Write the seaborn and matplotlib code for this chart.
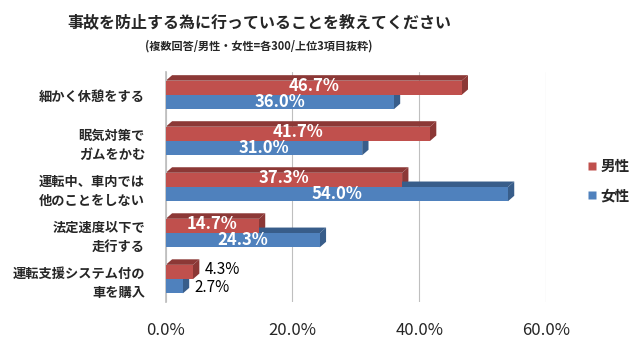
import matplotlib
matplotlib.use("Agg")
import matplotlib.pyplot as plt
from matplotlib.patches import Polygon
from matplotlib.lines import Line2D
import seaborn as sns
import pandas as pd

categories = ["細かく休憩をする", "眠気対策で\nガムをかむ", "運転中、車内では\n他のことをしない",
              "法定速度以下で\n走行する", "運転支援システム付の\n車を購入"]
male = [46.7, 41.7, 37.3, 14.7, 4.3]
female = [36.0, 31.0, 54.0, 24.3, 2.7]
series = ["男性", "女性"]
xticks = [0, 20, 40, 60]

title = "事故を防止する為に行っていることを教えてください"
subtitle = "(複数回答/男性・女性=各300/上位3項目抜粋)"

sns.set_theme(style="white")
plt.rcParams['font.family'] = ['Noto Sans CJK JP', 'DejaVu Sans']
narrow = ['Liberation Sans Narrow', 'Noto Sans CJK JP', 'DejaVu Sans']

df = pd.DataFrame({
    "item": categories * 2,
    "value": male + female,
    "sex": [series[0]] * len(categories) + [series[1]] * len(categories),
})

colors = {"男性": "#C0504D", "女性": "#4F81BD"}
dark = {"男性": "#8C3836", "女性": "#385D8A"}

fig = plt.figure(figsize=(6.4, 3.41), dpi=100)
ax = fig.add_axes([0.259, 0.114, 0.594, 0.675])

sns.barplot(data=df, y="item", x="value", hue="sex", order=categories,
            hue_order=series, palette=colors, orient="h", width=0.62,
            ax=ax, legend=False, zorder=3, edgecolor="none", saturation=1)

ax.set_xlim(0, 60)
ax.set_xticks(xticks)
ax.set_xticklabels([f"{t:.1f}%" for t in xticks], family=narrow, fontsize=12)
ax.set_xlabel("")
ax.set_ylabel("")
ax.tick_params(axis="y", length=0, pad=15)
ax.tick_params(axis="x", length=0, pad=14)
for lab in ax.get_yticklabels():
    lab.set_fontsize(9.5)
    lab.set_fontweight("bold")
    lab.set_linespacing(1.5)
for s in ["top", "right", "bottom"]:
    ax.spines[s].set_visible(False)
ax.spines["left"].set_color("#BFBFBF")
ax.xaxis.grid(True, color="#BFBFBF", linewidth=0.8, zorder=0)
ax.set_axisbelow(True)

# pseudo 3D depth faces derived from the bars
dx, dy = 1.0, 0.12
n = len(categories)
for i, p in enumerate(ax.patches[:2 * n]):
    s = series[i // n]
    x0, y0 = p.get_x(), p.get_y()
    w, h = p.get_width(), p.get_height()
    top = Polygon([(x0, y0), (x0 + w, y0), (x0 + w + dx, y0 - dy), (x0 + dx, y0 - dy)],
                  closed=True, facecolor=dark[s], edgecolor="none", zorder=2.5)
    side = Polygon([(x0 + w, y0), (x0 + w, y0 + h), (x0 + w + dx, y0 + h - dy), (x0 + w + dx, y0 - dy)],
                   closed=True, facecolor=dark[s], edgecolor="none", zorder=2.5)
    ax.add_patch(top)
    ax.add_patch(side)
    val = w
    yc = y0 + h / 2
    if val > 10:
        ax.text(x0 + w / 2, yc - (0.04 if i < n else 0), f"{val:.1f}%", color="white",
                ha="center", va="center", fontsize=12, fontweight="bold", family=narrow, zorder=5)
    else:
        ax.text(x0 + w + dx + 0.8, yc - (0.05 if i < n else -0.02), f"{val:.1f}%", color="black",
                ha="left", va="center", fontsize=11, family=narrow, zorder=5)

fig.text(0.405, 0.935, title, ha="center", va="center", fontsize=11.5, fontweight="bold")
fig.text(0.405, 0.866, subtitle, ha="center", va="center", fontsize=8, fontweight="bold")

handles = [Line2D([0], [0], marker="s", linestyle="none", markersize=6,
                  markerfacecolor=colors[s], markeredgecolor="none") for s in series]
leg = fig.legend(handles, series, loc="center left", bbox_to_anchor=(0.895, 0.47),
                 frameon=False, fontsize=10.5, handletextpad=0.2, labelspacing=0.9,
                 handlelength=0.8)
for t in leg.get_texts():
    t.set_fontweight("bold")

fig.savefig("out.png", dpi=100)
